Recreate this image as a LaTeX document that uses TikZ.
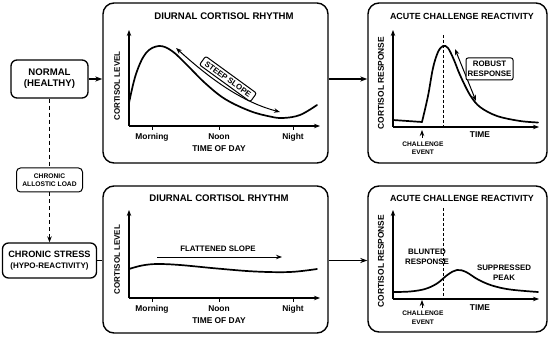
\documentclass[tikz,border=0pt]{standalone}
\usepackage{fontspec}
\setmainfont{Liberation Sans}
\usetikzlibrary{arrows.meta}
\tikzset{
  panel/.style={draw, line width=1.4pt, rounded corners=11pt, inner sep=0pt},
  lbox/.style={draw, line width=1.3pt, rounded corners=6pt, inner sep=0pt, align=center, font=\bfseries\fontsize{9.6}{11}\selectfont},
  sbox/.style={draw, line width=1pt, rounded corners=4pt, inner sep=0pt, align=center, font=\bfseries\fontsize{6.7}{8.5}\selectfont},
  ttl/.style={font=\bfseries\fontsize{9.6}{11}\selectfont, inner sep=0pt},
  ttl2/.style={font=\bfseries\fontsize{8.9}{11}\selectfont, inner sep=0pt},
  axlab/.style={font=\bfseries\fontsize{8.4}{10}\selectfont, inner sep=0pt},
  ylab/.style={font=\bfseries\fontsize{8}{10}\selectfont, inner sep=0pt, rotate=90},
  small/.style={font=\bfseries\fontsize{6.6}{8.5}\selectfont, inner sep=0pt, align=center},
  note/.style={font=\bfseries\fontsize{7.9}{9.6}\selectfont, inner sep=0pt, align=center},
  axis/.style={line width=1.1pt, -{Stealth[length=6pt,width=4.5pt]}},
  curve/.style={line width=1.7pt, line join=round, line cap=round},
  conn/.style={line width=1.1pt, -{Stealth[length=7pt,width=5pt]}},
  tip/.style={line width=1pt, -{Stealth[length=6pt,width=4.5pt]}},
  dtip/.style={line width=1pt, {Stealth[length=6pt,width=4.5pt]}-{Stealth[length=6pt,width=4.5pt]}},
  dsh/.style={line width=1.1pt, dash pattern=on 4pt off 3pt},
  vdsh/.style={line width=0.8pt, dash pattern=on 3pt off 2pt},
  tick/.style={line width=1pt}
}
\begin{document}
\begin{tikzpicture}[x=1pt,y=-1pt]
\useasboundingbox (0,0) rectangle (550,337);
\fill[white] (0,0) rectangle (550,337);

% panels
\node[panel, minimum width=225pt, minimum height=160pt] (TL) at (215.5,83) {};
\node[panel, minimum width=179pt, minimum height=160pt] (TR) at (457.5,83) {};
\node[panel, minimum width=225pt, minimum height=147pt] (BL) at (215.5,259.5) {};
\node[panel, minimum width=179pt, minimum height=146pt] (BR) at (457.5,259) {};

% left boxes
\node[lbox, minimum width=77pt, minimum height=38pt] (normal) at (49.5,79) {NORMAL\\(HEALTHY)};
\node[sbox, minimum width=66pt, minimum height=24pt] (load) at (49.5,180) {CHRONIC\\ALLOSTIC LOAD};
\node[lbox, minimum width=94pt, minimum height=35pt] (stress) at (49.5,260.5) {{\fontsize{9.2}{11}\selectfont CHRONIC STRESS}\\{\fontsize{8}{11}\selectfont (HYPO-REACTIVITY)}};

% connectors
\draw[conn] (normal.east) -- (normal.east -| TL.west);
\draw[conn] (TL.east |- normal.east) -- (TR.west |- normal.east);
\draw[dsh] (normal.south) -- (load.north);
\draw[dsh, -{Stealth[length=6pt,width=4.5pt]}] (load.south) -- (stress.north);
\coordinate (sj) at (stress.east);
\draw[line width=1.1pt] (sj) -- (sj -| BL.west);
\draw[conn] (BL.east |- sj) -- (BR.west |- sj);

% ---------- top-left panel ----------
\node[ttl] (t1) at (224,16) {DIURNAL CORTISOL RHYTHM};
\coordinate (o1) at (129,126);
\coordinate (y1) at (129,30);
\coordinate (x1) at (320,126);
\draw[axis] (o1) -- (y1);
\draw[axis] (o1) -- (x1);
\foreach \xx in {152,219,293} \draw[tick] (\xx,126) -- (\xx,130);
\node[axlab] (m1) at (152,137) {Morning};
\node[axlab] (n1) at (219,137) {Noon};
\node[axlab] (g1) at (293,137) {Night};
\node[axlab] (td1) at (219,149) {TIME OF DAY};
\node[ylab] (cl1) at (117,86) {CORTISOL LEVEL};
\draw[curve] plot[smooth, tension=0.6] coordinates {(129,103) (136,74) (146,53) (159,46) (172,51) (187,65) (205,83) (225,99) (250,111) (270,116.5) (283,118) (300,115) (317,105)};
\coordinate (sa) at (176,48);
\coordinate (sb) at (280,112);
\draw[dtip] (sa) .. controls (205,74) and (238,101) .. (sb);
\node[note, draw, fill=white, line width=1pt, rounded corners=2pt, rotate=-36, inner xsep=4pt, inner ysep=2.5pt] (steep) at (228,79) {STEEP SLOPE};

% ---------- top-right panel ----------
\node[ttl2] (t2) at (462,16) {ACUTE CHALLENGE REACTIVITY};
\coordinate (o2) at (393,127);
\coordinate (y2) at (393,30);
\coordinate (x2) at (539,127);
\draw[axis] (o2) -- (y2);
\draw[axis] (o2) -- (x2);
\node[ylab, font=\bfseries\fontsize{8.4}{10}\selectfont] (cr1) at (381,83) {CORTISOL RESPONSE};
\draw[vdsh] (443,35) -- (443,127);
\draw[curve] (393,120) -- (422,122);
\draw[curve] plot[smooth, tension=0.55] coordinates {(422,122) (428,96) (433,68) (438,52) (443,46) (448,48) (454,60) (460,75) (470,95) (480,107) (497,116) (520,121) (538,122.5)};
\draw[dtip] (455,49) -- (476,101);
\node[note, draw, fill=white, line width=1pt, rounded corners=2pt, minimum width=47pt, minimum height=22pt] (robust) at (489.5,69) {ROBUST\\RESPONSE};
\coordinate (ce1) at (422,138);
\draw[tip] (ce1) -- (422,130);
\node[small] (cev1) at (423,148) {CHALLENGE\\EVENT};
\node[axlab] (tm1) at (480,135) {TIME};

% ---------- bottom-left panel ----------
\node[ttl] (t3) at (219,198) {DIURNAL CORTISOL RHYTHM};
\coordinate (o3) at (129,298);
\coordinate (y3) at (129,210);
\coordinate (x3) at (320,298);
\draw[axis] (o3) -- (y3);
\draw[axis] (o3) -- (x3);
\foreach \xx in {152,219,293} \draw[tick] (\xx,298) -- (\xx,302);
\node[axlab] (m2) at (152,309) {Morning};
\node[axlab] (n2) at (219,309) {Noon};
\node[axlab] (g2) at (293,309) {Night};
\node[axlab] (td2) at (219,321) {TIME OF DAY};
\node[ylab] (cl2) at (117,259.5) {CORTISOL LEVEL};
\draw[curve] plot[smooth, tension=0.6] coordinates {(129,269) (142,265.5) (157,264) (180,265) (217,268.5) (255,271.5) (290,272) (317,269)};
\coordinate (fa) at (157,257);
\coordinate (fb) at (282,257);
\draw[tip] (fa) -- (fb);
\node[note] (flat) at (218,249) {FLATTENED SLOPE};

% ---------- bottom-right panel ----------
\node[ttl2] (t4) at (462,198) {ACUTE CHALLENGE REACTIVITY};
\coordinate (o4) at (393,299);
\coordinate (y4) at (393,210);
\coordinate (x4) at (539,299);
\draw[axis] (o4) -- (y4);
\draw[axis] (o4) -- (x4);
\node[ylab, font=\bfseries\fontsize{8.4}{10}\selectfont] (cr2) at (381,261) {CORTISOL RESPONSE};
\draw[vdsh] (443,208) -- (443,299);
\draw[curve] plot[smooth, tension=0.6] coordinates {(393,292) (410,291.5) (425,289) (437,283.5) (448,274.5) (457,270) (466,272) (478,279.5) (492,285.5) (510,289.5) (538,292)};
\node[note] (blunt) at (427,257) {BLUNTED\\RESPONSE};
\node[note] (supp) at (504,273) {SUPPRESSED\\PEAK};
\coordinate (ce2) at (422,308);
\draw[tip] (ce2) -- (422,300);
\node[small] (cev2) at (423,317.5) {CHALLENGE\\EVENT};
\node[axlab] (tm2) at (480,308) {TIME};
\end{tikzpicture}
\end{document}
